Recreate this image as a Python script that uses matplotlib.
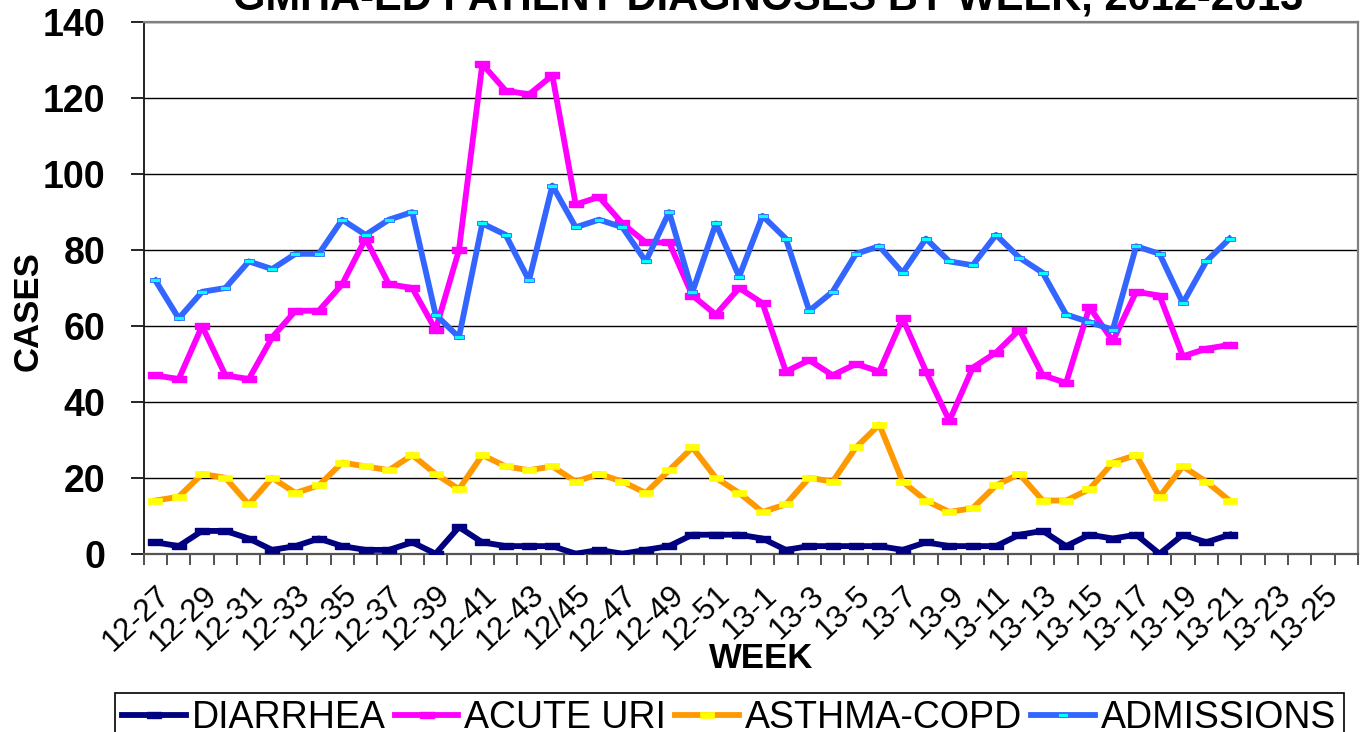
import matplotlib
matplotlib.use("Agg")
import matplotlib.pyplot as plt
import matplotlib.transforms as mtransforms
import numpy as np

plt.rcParams['font.family'] = ['Liberation Sans', 'DejaVu Sans']

# week categories, 2012 week 27 to 2013 week 26
weeks = ["12-%d" % w for w in range(27, 53)] + ["13-%d" % w for w in range(1, 27)]
weeks[weeks.index("12-45")] = "12/45"

diarrhea = [3, 2, 6, 6, 4, 1, 2, 4, 2, 1, 1, 3, 0, 7, 3, 2, 2, 2, 0, 1, 0, 1, 2, 5,
            5, 5, 4, 1, 2, 2, 2, 2, 1, 3, 2, 2, 2, 5, 6, 2, 5, 4, 5, 0, 5, 3, 5]
acute_uri = [47, 46, 60, 47, 46, 57, 64, 64, 71, 83, 71, 70, 59, 80, 129, 122, 121, 126, 92, 94, 87, 82, 82, 68,
             63, 70, 66, 48, 51, 47, 50, 48, 62, 48, 35, 49, 53, 59, 47, 45, 65, 56, 69, 68, 52, 54, 55]
asthma_copd = [14, 15, 21, 20, 13, 20, 16, 18, 24, 23, 22, 26, 21, 17, 26, 23, 22, 23, 19, 21, 19, 16, 22, 28,
               20, 16, 11, 13, 20, 19, 28, 34, 19, 14, 11, 12, 18, 21, 14, 14, 17, 24, 26, 15, 23, 19, 14]
admissions = [72, 62, 69, 70, 77, 75, 79, 79, 88, 84, 88, 90, 63, 57, 87, 84, 72, 97, 86, 88, 86, 77, 90, 69,
              87, 73, 89, 83, 64, 69, 79, 81, 74, 83, 77, 76, 84, 78, 74, 63, 61, 59, 81, 79, 66, 77, 83]

# wide flat rectangle used as the Excel style dash marker
dash = [(-1, -0.45), (1, -0.45), (1, 0.45), (-1, 0.45), (-1, -0.45)]

fig = plt.figure(figsize=(13.62, 7.32), dpi=100)
ax = fig.add_axes([143.7 / 1362, 1 - 553.7 / 732, (1358 - 143.7) / 1362, (553.7 - 22.3) / 732])

n = len(weeks)
x = np.arange(len(diarrhea))

ax.plot(x, diarrhea, color="#000080", lw=4.2, marker=dash, ms=10, mfc="#000080", mec="#000080",
        label="DIARRHEA", zorder=3)
ax.plot(x, acute_uri, color="#FF00FF", lw=4.2, marker=dash, ms=10.5, mfc="#FF00FF", mec="#FF00FF",
        label="ACUTE URI", zorder=4)
ax.plot(x, asthma_copd, color="#FF9900", lw=4.2, marker=dash, ms=10.5, mfc="#FFFF00", mec="#FFFF00",
        mew=0.5, label="ASTHMA-COPD", zorder=5)
ax.plot(x, admissions, color="#3366FF", lw=4.2, marker=dash, ms=6.5, mfc="#00FFFF", mec="#3366FF",
        mew=0.6, label="ADMISSIONS", zorder=6)

ax.set_xlim(-0.5, n - 0.5)
ax.set_ylim(0, 140)
ax.set_yticks(range(0, 141, 20))
ax.set_yticklabels([str(v) for v in range(0, 141, 20)], fontsize=27, fontweight="bold")
ax.yaxis.grid(True, color="black", lw=1.0, zorder=0)
ax.set_axisbelow(True)

# tick marks between categories, labels on every other category
ax.set_xticks(np.arange(-0.5, n, 1.0))
ax.set_xticklabels([])
ax.set_xticks(np.arange(0, n, 2), [weeks[i] for i in range(0, n, 2)], minor=True)
shift = mtransforms.ScaledTranslation(-7 / 100, 0, fig.dpi_scale_trans)
for lab in ax.get_xticklabels(minor=True):
    lab.set_rotation(43)
    lab.set_ha("right")
    lab.set_va("top")
    lab.set_rotation_mode("anchor")
    lab.set_fontsize(22.5)
    lab.set_transform(lab.get_transform() + shift)
ax.tick_params(axis="x", which="major", length=8, width=1.2, color="#333333", direction="out")
ax.tick_params(axis="x", which="minor", length=0, pad=19)
ax.tick_params(axis="y", length=9.5, width=1.2, pad=18, direction="out")

for side in ["top", "right"]:
    ax.spines[side].set_color("#808080")
    ax.spines[side].set_linewidth(1.6)
ax.spines["left"].set_color("#222222")
ax.spines["left"].set_linewidth(1.4)
ax.spines["bottom"].set_color("#555555")
ax.spines["bottom"].set_linewidth(1.6)

fig.text(768 / 1362, 1 - 9 / 732, "GMHA-ED PATIENT DIAGNOSES BY WEEK, 2012-2013",
         ha="center", va="baseline", fontsize=30, fontweight="bold")
fig.text(28 / 1362, 1 - 311 / 732, "CASES", rotation=90, ha="center", va="center",
         fontsize=25, fontweight="bold")
fig.text(761 / 1362, 1 - 658 / 732, "WEEK", ha="center", va="center",
         fontsize=25, fontweight="bold")

leg = fig.legend(loc="upper center", bbox_to_anchor=(729 / 1362, 1 - 693 / 732), ncol=4,
                 fontsize=27, frameon=True, fancybox=False, edgecolor="black", framealpha=1,
                 handlelength=1.7, handletextpad=0.15, columnspacing=0.25, borderpad=0.2,
                 borderaxespad=0, numpoints=1)
leg.get_frame().set_linewidth(1.2)

fig.savefig("out.png", dpi=100)
